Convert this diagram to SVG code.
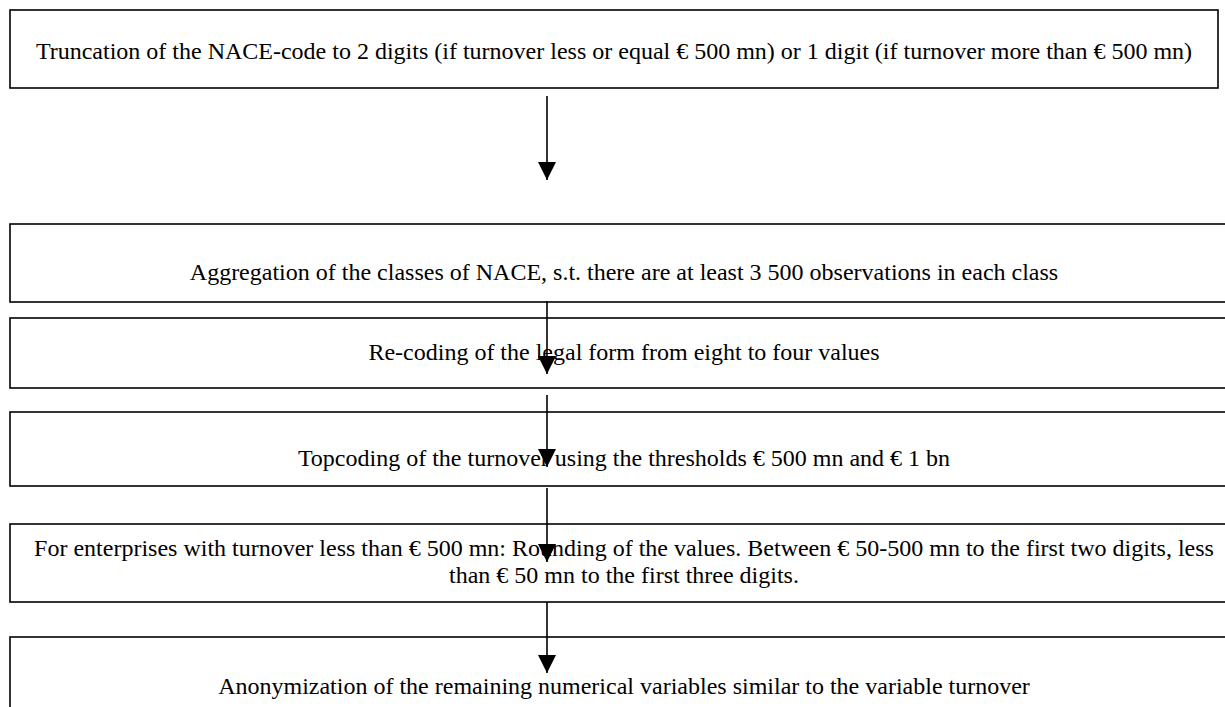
<svg xmlns="http://www.w3.org/2000/svg" width="1225" height="707" viewBox="0 0 1225 707">
<style>
.box{fill:#fff;stroke:#000;stroke-width:1.6}
.t{font-family:"Liberation Serif","Times New Roman",serif;font-size:24px;fill:#000;text-anchor:middle}
.c{stroke:#000;stroke-width:1.6;fill:none}
</style>
<defs>
<marker id="ah" markerUnits="userSpaceOnUse" markerWidth="18" markerHeight="18" refX="16" refY="8" orient="auto" viewBox="0 0 16 16">
<path d="M0,0 L16,8 L0,16 Z" fill="#000"/>
</marker>
</defs>
<rect width="1225" height="707" fill="#fff"/>
<g id="n1"><rect class="box" x="10" y="10" width="1208" height="78"/><text class="t" x="614" y="59">Truncation of the NACE-code to 2 digits (if turnover less or equal € 500 mn) or 1 digit (if turnover more than € 500 mn)</text></g>
<g id="n2"><rect class="box" x="10" y="224" width="1228" height="78"/><text class="t" x="624" y="280">Aggregation of the classes of NACE, s.t. there are at least 3 500 observations in each class</text></g>
<g id="n3"><rect class="box" x="10" y="318" width="1228" height="70"/><text class="t" x="624" y="360">Re-coding of the legal form from eight to four values</text></g>
<g id="n4"><rect class="box" x="10" y="412" width="1228" height="74"/><text class="t" x="624" y="466">Topcoding of the turnover using the thresholds € 500 mn and  € 1 bn</text></g>
<g id="n5"><rect class="box" x="10" y="524" width="1228" height="78"/><text class="t" x="624" y="556">For enterprises with turnover less than € 500 mn: Rounding of the values. Between € 50-500 mn to the first two digits, less</text><text class="t" x="624" y="583">than € 50 mn to the first three digits.</text></g>
<g id="n6"><rect class="box" x="10" y="637" width="1228" height="80"/><text class="t" x="624" y="694">Anonymization of the remaining numerical variables similar to the variable turnover</text></g>
<g id="connectors">
<line class="c" x1="547" y1="96" x2="547" y2="180" marker-end="url(#ah)"/>
<line class="c" x1="547" y1="301" x2="547" y2="374" marker-end="url(#ah)"/>
<line class="c" x1="547" y1="395" x2="547" y2="467" marker-end="url(#ah)"/>
<line class="c" x1="547" y1="488" x2="547" y2="562" marker-end="url(#ah)"/>
<line class="c" x1="547" y1="602" x2="547" y2="673" marker-end="url(#ah)"/>
</g>
</svg>
